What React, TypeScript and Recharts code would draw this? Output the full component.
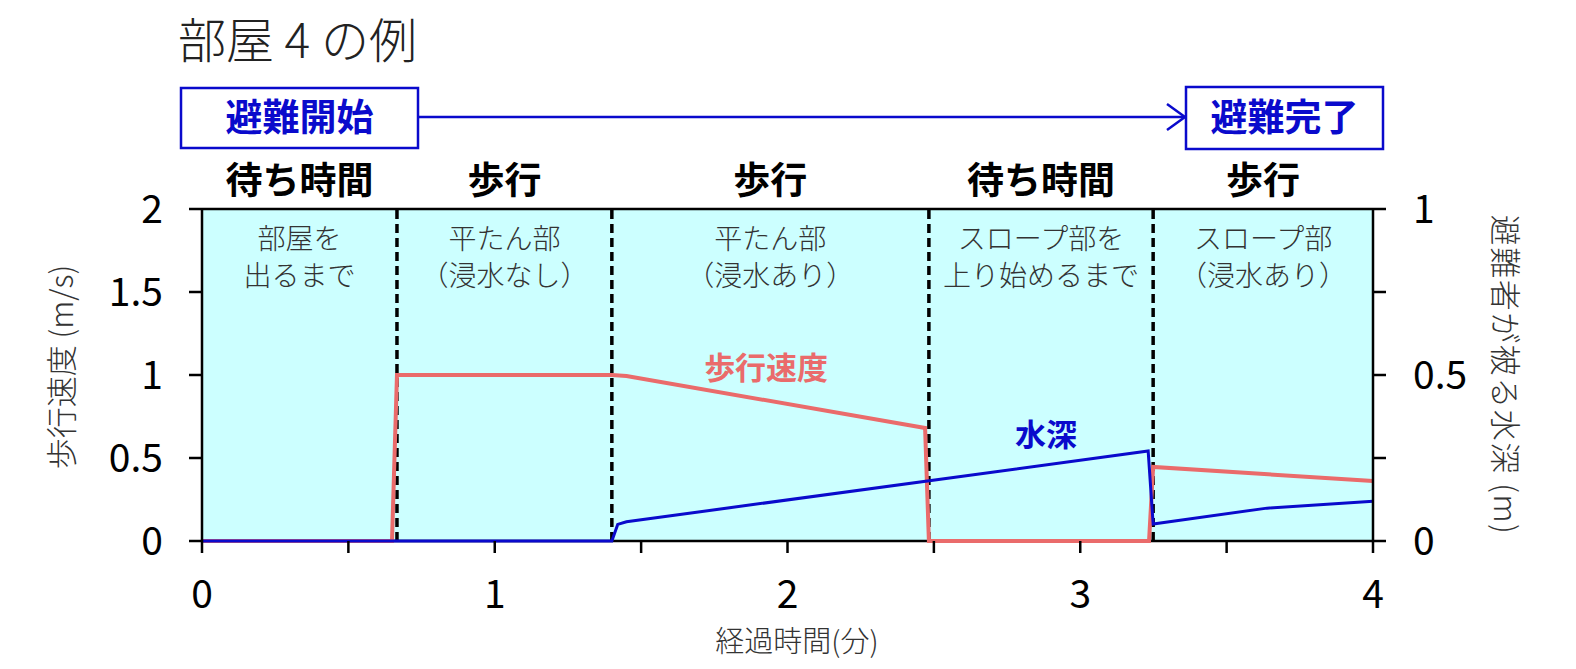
import {
  LineChart,
  Line,
  XAxis,
  YAxis,
  ReferenceArea,
  ReferenceLine,
  ReferenceDot,
} from "recharts";

// 歩行速度 (m/s)
const speedTime = [0, 0.649, 0.666, 1.4, 1.45, 2.47, 2.483, 3.235, 3.249, 4.0];
const speedValue = [0, 0, 1.0, 1.0, 0.994, 0.681, 0, 0, 0.446, 0.361];

// 避難者が被る水深 (m)
const depthTime = [0, 1.4, 1.42, 1.45, 3.232, 3.249, 3.638, 4.0];
const depthValue = [0, 0, 0.05, 0.058, 0.271, 0.051, 0.099, 0.12];

const phaseBounds = [0, 0.666, 1.4, 2.483, 3.249, 4];
const phaseHeadings = ["待ち時間", "歩行", "歩行", "待ち時間", "歩行"];
const phaseNotes = [
  ["部屋を", "出るまで"],
  ["平たん部", "（浸水なし）"],
  ["平たん部", "（浸水あり）"],
  ["スロープ部を", "上り始めるまで"],
  ["スロープ部", "（浸水あり）"],
];

const xTicks = [0, 0.5, 1, 1.5, 2, 2.5, 3, 3.5, 4];
const speedTicks = [0, 0.5, 1, 1.5, 2];
const depthTicks = [0, 0.25, 0.5, 0.75, 1];

const FONT = '"Noto Sans CJK JP", "Noto Sans", sans-serif';
const BLUE = "#0A0ACC";
const RED = "#EA6B6B";
const TEXT = "#333";

const speedData = speedTime.map((t, i) => ({ t, v: speedValue[i] }));
const depthData = depthTime.map((t, i) => ({ t, v: depthValue[i] }));

const tickStyle = { fill: "#000", fontSize: 39, fontFamily: FONT };
const axisLine = { stroke: "#000", strokeWidth: 2.5 };

function phaseLabel(i: number) {
  return (props: any) => {
    const { x, y, width } = props.viewBox;
    const cx = x + width / 2;
    return (
      <g fontFamily={FONT} textAnchor="middle">
        <text x={cx} y={y - 28} dy="0.36em" fontSize={37} fontWeight="bold" fill="#000">
          {phaseHeadings[i]}
        </text>
        {phaseNotes[i].map((line, j) => (
          <text
            key={j}
            x={cx}
            y={y + 30 + j * 37}
            dy="0.36em"
            fontSize={28}
            fontWeight={300}
            fill={TEXT}
          >
            {line}
          </text>
        ))}
      </g>
    );
  };
}

export default function App() {
  return (
    <div style={{ position: "absolute", left: 0, top: 0, width: 1576, height: 669, background: "#fff" }}>
      <LineChart
        width={1576}
        height={669}
        margin={{ top: 209, right: 123, bottom: 68, left: 122 }}
      >
        <XAxis
          type="number"
          dataKey="t"
          domain={[0, 4]}
          ticks={xTicks}
          tickFormatter={(v: number) => (Number.isInteger(v) ? String(v) : "")}
          height={60}
          tickSize={12}
          tickMargin={27}
          axisLine={false}
          tickLine={axisLine}
          tick={tickStyle}
          allowDuplicatedCategory={false}
        />
        <YAxis
          yAxisId="speed"
          domain={[0, 2]}
          ticks={speedTicks}
          width={80}
          tickSize={13}
          tickMargin={26}
          axisLine={axisLine}
          tickLine={axisLine}
          tick={tickStyle}
        />
        <YAxis
          yAxisId="depth"
          orientation="right"
          domain={[0, 1]}
          ticks={depthTicks}
          tickFormatter={(v: number) => (v === 0.25 || v === 0.75 ? "" : String(v))}
          width={80}
          tickSize={13}
          tickMargin={27}
          axisLine={axisLine}
          tickLine={axisLine}
          tick={{ ...tickStyle, textAnchor: "start" }}
        />
        <ReferenceArea
          yAxisId="speed"
          x1={0}
          x2={4}
          y1={0}
          y2={2}
          fill="#CCFFFF"
          fillOpacity={1}
          stroke="none"
        />
        {phaseHeadings.map((_, i) => (
          <ReferenceArea
            key={i}
            yAxisId="speed"
            x1={phaseBounds[i]}
            x2={phaseBounds[i + 1]}
            y1={0}
            y2={2}
            fill="none"
            stroke="none"
            label={phaseLabel(i)}
          />
        ))}
        {phaseBounds.slice(1, -1).map((b) => (
          <ReferenceLine
            key={b}
            yAxisId="speed"
            x={b}
            stroke="#000"
            strokeWidth={3.5}
            strokeDasharray="9 5"
          />
        ))}
        <ReferenceLine yAxisId="speed" y={2} stroke="#000" strokeWidth={2.5} />
        <ReferenceLine yAxisId="speed" y={0} stroke="#000" strokeWidth={2.5} />
        <Line
          yAxisId="speed"
          data={speedData}
          dataKey="v"
          type="linear"
          stroke={RED}
          strokeWidth={4}
          dot={false}
          isAnimationActive={false}
        />
        <Line
          yAxisId="depth"
          data={depthData}
          dataKey="v"
          type="linear"
          stroke={BLUE}
          strokeWidth={3}
          dot={false}
          isAnimationActive={false}
        />
        <ReferenceDot
          yAxisId="speed"
          x={1.927}
          y={1.042}
          r={0}
          fill="none"
          stroke="none"
          label={{ value: "歩行速度", position: "center", fill: RED, fontSize: 31, fontWeight: "bold", fontFamily: FONT }}
        />
        <ReferenceDot
          yAxisId="speed"
          x={2.883}
          y={0.639}
          r={0}
          fill="none"
          stroke="none"
          label={{ value: "水深", position: "center", fill: BLUE, fontSize: 31, fontWeight: "bold", fontFamily: FONT }}
        />
      </LineChart>

      <svg
        width={1576}
        height={669}
        style={{ position: "absolute", left: 0, top: 0, pointerEvents: "none" }}
        fontFamily={FONT}
      >
        <text x={178} y={41} dy="0.36em" fontSize={48} fontWeight={300} fill="#222">
          部屋 4 の例
        </text>

        <rect x={181} y={88} width={237} height={60} fill="#fff" stroke={BLUE} strokeWidth={2.5} />
        <text x={299.5} y={118} dy="0.36em" textAnchor="middle" fontSize={37} fontWeight="bold" fill={BLUE}>
          避難開始
        </text>
        <line x1={418} y1={117} x2={1185} y2={117} stroke={BLUE} strokeWidth={2.5} />
        <polyline points="1167,104 1185,117 1167,130" fill="none" stroke={BLUE} strokeWidth={2.5} />
        <rect x={1186} y={87} width={197} height={62} fill="#fff" stroke={BLUE} strokeWidth={2.5} />
        <text x={1284.5} y={118} dy="0.36em" textAnchor="middle" fontSize={37} fontWeight="bold" fill={BLUE}>
          避難完了
        </text>

        <text
          x={62}
          y={367}
          dy="0.36em"
          textAnchor="middle"
          fontSize={31}
          fontWeight={300}
          fill={TEXT}
          transform="rotate(-90 62 367)"
        >
          歩行速度 (m/s)
        </text>
        <text
          x={1505}
          y={375}
          dy="0.36em"
          textAnchor="middle"
          fontSize={31}
          fontWeight={300}
          letterSpacing={1.5}
          fill={TEXT}
          transform="rotate(90 1505 375)"
        >
          避難者が被る水深 (m)
        </text>
        <text x={797} y={642} dy="0.36em" textAnchor="middle" fontSize={29} fontWeight={300} fill={TEXT}>
          経過時間(分)
        </text>
      </svg>
    </div>
  );
}
